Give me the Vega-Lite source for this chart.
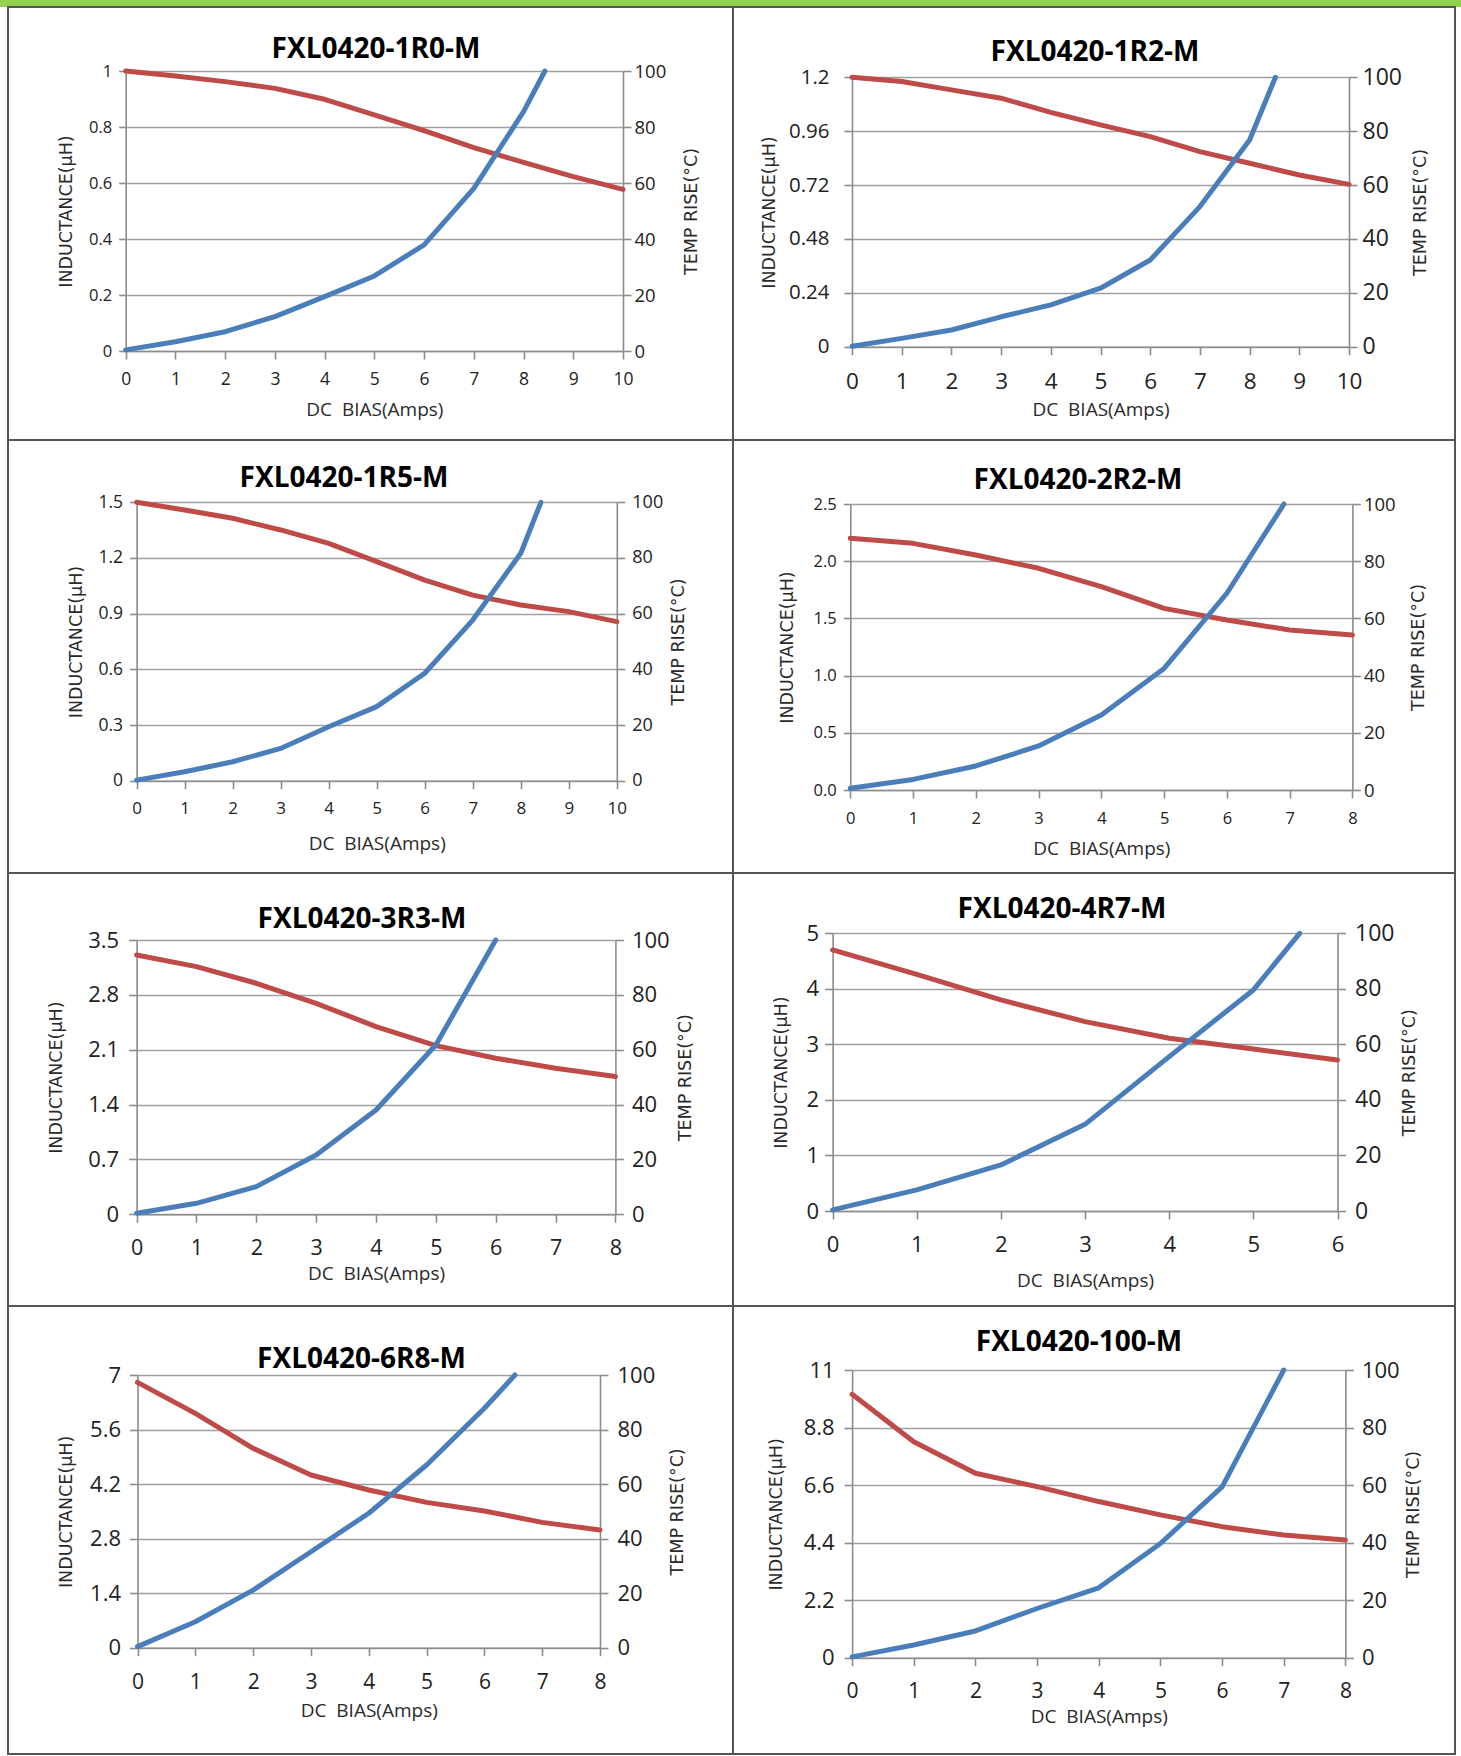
{
  "$schema": "https://vega.github.io/schema/vega-lite/v6.json",
  "background": "white",
  "padding": 0,
  "spacing": 0,
  "bounds": "flush",
  "config": {
    "font": "Open Sans",
    "view": {"stroke": "#555555", "strokeWidth": 2},
    "axis": {"domainColor": "#8c8c8c", "domainWidth": 1.6, "tickColor": "#8c8c8c", "tickWidth": 1.6, "gridColor": "#a0a0a0", "gridWidth": 1.6, "labelColor": "#222222", "labelFont": "Open Sans", "titleFont": "DejaVu Sans", "titleFontWeight": "normal", "titleColor": "#2a2a2a", "titleFontSize": 17.5, "titleBaseline": "middle", "labelFlush": false, "labelOverlap": false, "labelBound": false, "tickSize": 8, "grid": false},
    "axisX": {"titleFont": "Open Sans", "titleFontSize": 19, "labelBaseline": "middle", "format": "d"},
    "title": {"font": "Open Sans", "fontSize": 28, "fontWeight": "bold", "color": "#000000", "anchor": "middle", "frame": "group", "baseline": "middle"},
    "line": {"strokeWidth": 5, "strokeCap": "round", "strokeJoin": "round"}
  },
  "datasets": {
    "p1": [
      {"curve": "L", "bias": 0, "value": 1.0}, {"curve": "L", "bias": 1, "value": 0.982}, {"curve": "L", "bias": 2, "value": 0.962}, {"curve": "L", "bias": 3, "value": 0.938}, {"curve": "L", "bias": 4, "value": 0.899}, {"curve": "L", "bias": 5, "value": 0.843}, {"curve": "L", "bias": 6, "value": 0.787}, {"curve": "L", "bias": 7, "value": 0.726}, {"curve": "L", "bias": 8, "value": 0.674}, {"curve": "L", "bias": 9, "value": 0.623}, {"curve": "L", "bias": 10, "value": 0.577},
      {"curve": "T", "bias": 0, "value": 0.4}, {"curve": "T", "bias": 1, "value": 3.3}, {"curve": "T", "bias": 2, "value": 6.9}, {"curve": "T", "bias": 3, "value": 12.3}, {"curve": "T", "bias": 4, "value": 19.4}, {"curve": "T", "bias": 5, "value": 26.8}, {"curve": "T", "bias": 6, "value": 37.9}, {"curve": "T", "bias": 7, "value": 58.1}, {"curve": "T", "bias": 8, "value": 85.5}, {"curve": "T", "bias": 8.43, "value": 100}
    ],
    "p2": [
      {"curve": "L", "bias": 0, "value": 1.2}, {"curve": "L", "bias": 1, "value": 1.181}, {"curve": "L", "bias": 2, "value": 1.144}, {"curve": "L", "bias": 3, "value": 1.107}, {"curve": "L", "bias": 4, "value": 1.044}, {"curve": "L", "bias": 5, "value": 0.988}, {"curve": "L", "bias": 6, "value": 0.936}, {"curve": "L", "bias": 7, "value": 0.869}, {"curve": "L", "bias": 8, "value": 0.817}, {"curve": "L", "bias": 9, "value": 0.765}, {"curve": "L", "bias": 10, "value": 0.723},
      {"curve": "T", "bias": 0, "value": 0.2}, {"curve": "T", "bias": 1, "value": 3.1}, {"curve": "T", "bias": 2, "value": 6.2}, {"curve": "T", "bias": 3, "value": 11.1}, {"curve": "T", "bias": 4, "value": 15.5}, {"curve": "T", "bias": 5, "value": 21.7}, {"curve": "T", "bias": 6, "value": 32.2}, {"curve": "T", "bias": 7, "value": 52}, {"curve": "T", "bias": 8, "value": 76.7}, {"curve": "T", "bias": 8.52, "value": 100}
    ],
    "p3": [
      {"curve": "L", "bias": 0, "value": 1.5}, {"curve": "L", "bias": 1, "value": 1.459}, {"curve": "L", "bias": 2, "value": 1.414}, {"curve": "L", "bias": 3, "value": 1.351}, {"curve": "L", "bias": 4, "value": 1.279}, {"curve": "L", "bias": 5, "value": 1.18}, {"curve": "L", "bias": 6, "value": 1.081}, {"curve": "L", "bias": 7, "value": 1.0}, {"curve": "L", "bias": 8, "value": 0.947}, {"curve": "L", "bias": 9, "value": 0.911}, {"curve": "L", "bias": 10, "value": 0.857},
      {"curve": "T", "bias": 0, "value": 0.2}, {"curve": "T", "bias": 1, "value": 3.2}, {"curve": "T", "bias": 2, "value": 6.8}, {"curve": "T", "bias": 3, "value": 11.6}, {"curve": "T", "bias": 4, "value": 19.4}, {"curve": "T", "bias": 5, "value": 26.6}, {"curve": "T", "bias": 6, "value": 38.6}, {"curve": "T", "bias": 7, "value": 57.7}, {"curve": "T", "bias": 8, "value": 81.7}, {"curve": "T", "bias": 8.42, "value": 100}
    ],
    "p4": [
      {"curve": "L", "bias": 0, "value": 2.2}, {"curve": "L", "bias": 1, "value": 2.156}, {"curve": "L", "bias": 2, "value": 2.054}, {"curve": "L", "bias": 3, "value": 1.938}, {"curve": "L", "bias": 4, "value": 1.777}, {"curve": "L", "bias": 5, "value": 1.588}, {"curve": "L", "bias": 6, "value": 1.486}, {"curve": "L", "bias": 7, "value": 1.399}, {"curve": "L", "bias": 8, "value": 1.355},
      {"curve": "T", "bias": 0, "value": 0.6}, {"curve": "T", "bias": 1, "value": 3.7}, {"curve": "T", "bias": 2, "value": 8.4}, {"curve": "T", "bias": 3, "value": 15.4}, {"curve": "T", "bias": 4, "value": 26.2}, {"curve": "T", "bias": 5, "value": 42.5}, {"curve": "T", "bias": 6, "value": 68.8}, {"curve": "T", "bias": 6.91, "value": 100}
    ],
    "p5": [
      {"curve": "L", "bias": 0, "value": 3.309}, {"curve": "L", "bias": 1, "value": 3.16}, {"curve": "L", "bias": 2, "value": 2.948}, {"curve": "L", "bias": 3, "value": 2.692}, {"curve": "L", "bias": 4, "value": 2.395}, {"curve": "L", "bias": 5, "value": 2.152}, {"curve": "L", "bias": 6, "value": 1.991}, {"curve": "L", "bias": 7, "value": 1.863}, {"curve": "L", "bias": 8, "value": 1.757},
      {"curve": "T", "bias": 0, "value": 0.4}, {"curve": "T", "bias": 1, "value": 4.0}, {"curve": "T", "bias": 2, "value": 10.1}, {"curve": "T", "bias": 3, "value": 21.6}, {"curve": "T", "bias": 4, "value": 38}, {"curve": "T", "bias": 5, "value": 61.7}, {"curve": "T", "bias": 6, "value": 100}
    ],
    "p6": [
      {"curve": "L", "bias": 0, "value": 4.7}, {"curve": "L", "bias": 1, "value": 4.262}, {"curve": "L", "bias": 2, "value": 3.8}, {"curve": "L", "bias": 3, "value": 3.409}, {"curve": "L", "bias": 4, "value": 3.109}, {"curve": "L", "bias": 5, "value": 2.917}, {"curve": "L", "bias": 6, "value": 2.719},
      {"curve": "T", "bias": 0, "value": 0.4}, {"curve": "T", "bias": 1, "value": 7.6}, {"curve": "T", "bias": 2, "value": 16.6}, {"curve": "T", "bias": 3, "value": 31.2}, {"curve": "T", "bias": 4, "value": 55.6}, {"curve": "T", "bias": 5, "value": 79.6}, {"curve": "T", "bias": 5.55, "value": 100}
    ],
    "p7": [
      {"curve": "L", "bias": 0, "value": 6.81}, {"curve": "L", "bias": 1, "value": 6.016}, {"curve": "L", "bias": 2, "value": 5.117}, {"curve": "L", "bias": 3, "value": 4.433}, {"curve": "L", "bias": 4, "value": 4.048}, {"curve": "L", "bias": 5, "value": 3.731}, {"curve": "L", "bias": 6, "value": 3.508}, {"curve": "L", "bias": 7, "value": 3.217}, {"curve": "L", "bias": 8, "value": 3.021},
      {"curve": "T", "bias": 0, "value": 0.4}, {"curve": "T", "bias": 1, "value": 9.5}, {"curve": "T", "bias": 2, "value": 21.1}, {"curve": "T", "bias": 3, "value": 35.2}, {"curve": "T", "bias": 4, "value": 49.3}, {"curve": "T", "bias": 5, "value": 67}, {"curve": "T", "bias": 6, "value": 87.8}, {"curve": "T", "bias": 6.53, "value": 100}
    ],
    "p8": [
      {"curve": "L", "bias": 0, "value": 10.07}, {"curve": "L", "bias": 1, "value": 8.26}, {"curve": "L", "bias": 2, "value": 7.05}, {"curve": "L", "bias": 3, "value": 6.54}, {"curve": "L", "bias": 4, "value": 5.97}, {"curve": "L", "bias": 5, "value": 5.46}, {"curve": "L", "bias": 6, "value": 5.01}, {"curve": "L", "bias": 7, "value": 4.69}, {"curve": "L", "bias": 8, "value": 4.5},
      {"curve": "T", "bias": 0, "value": 0.3}, {"curve": "T", "bias": 1, "value": 4.4}, {"curve": "T", "bias": 2, "value": 9.3}, {"curve": "T", "bias": 3, "value": 17.1}, {"curve": "T", "bias": 4, "value": 24.3}, {"curve": "T", "bias": 5, "value": 39.7}, {"curve": "T", "bias": 6, "value": 59.4}, {"curve": "T", "bias": 7, "value": 100}
    ]
  },
  "vconcat": [
    {
      "width": 1461, "height": 7,
      "view": {"stroke": null},
      "data": {"values": [{"start": 0, "end": 1}]},
      "mark": {"type": "rect", "color": "#92D050"},
      "encoding": {
        "x": {"field": "start", "type": "quantitative", "scale": {"domain": [0, 1], "nice": false, "zero": false}, "axis": null},
        "x2": {"field": "end"}
      }
    },
    {
      "spacing": 0,
      "bounds": "flush",
      "hconcat": [
        {"width": 8, "height": 10, "view": {"stroke": null}, "data": {"values": []}, "mark": "point", "encoding": {}},
        {
          "columns": 2,
          "spacing": 0,
          "align": "each",
          "bounds": "flush",
          "concat": [
            {
              "width": 725, "height": 433,
              "title": {"text": "FXL0420-1R0-M", "offset": -56.8, "dx": 5.5},
              "data": {"name": "p1"},
              "layer": [
                {"transform": [{"filter": "datum.curve == 'L'"}],
                 "mark": {"type": "line", "color": "#BE4B48"},
                 "encoding": {
                   "x": {"field": "bias", "type": "quantitative", "scale": {"domain": [0, 10], "range": [117.7, 615], "nice": false, "zero": false},
                         "axis": {"values": [0,1,2,3,4,5,6,7,8,9,10], "format": "d", "title": "DC\u00a0 BIAS(Amps)", "offset": -89, "titleY": 58, "labelFontSize": 17.5, "labelPadding": 20}},
                   "y": {"field": "value", "type": "quantitative", "scale": {"domain": [0, 1], "range": [344, 64], "nice": false, "zero": false},
                         "axis": {"orient": "left", "grid": true, "values": [0,0.2,0.4,0.6,0.8,1], "format": ".3~g", "title": "INDUCTANCE(μH)", "offset": -117.7, "titleX": -59.3, "labelFontSize": 16.5, "tickSize": 7, "labelPadding": 7}}
                 }},
                {"transform": [{"filter": "datum.curve == 'T'"}],
                 "mark": {"type": "line", "color": "#4A7EBB"},
                 "encoding": {
                   "x": {"field": "bias", "type": "quantitative"},
                   "y": {"field": "value", "type": "quantitative", "scale": {"domain": [0, 100], "range": [344, 64], "nice": false, "zero": false},
                         "axis": {"orient": "right", "values": [0,20,40,60,80,100], "format": "d", "title": "TEMP RISE(°C)", "titleAngle": 270, "offset": -110, "titleX": 68, "labelFontSize": 18.5, "labelPadding": 3}}
                 }}
              ],
              "resolve": {"scale": {"y": "independent"}, "axis": {"y": "independent"}}
            },
            {
              "width": 722, "height": 433,
              "title": {"text": "FXL0420-1R2-M", "offset": -60.2, "dx": 1},
              "data": {"name": "p2"},
              "layer": [
                {"transform": [{"filter": "datum.curve == 'L'"}],
                 "mark": {"type": "line", "color": "#BE4B48"},
                 "encoding": {
                   "x": {"field": "bias", "type": "quantitative", "scale": {"domain": [0, 10], "range": [119, 616], "nice": false, "zero": false},
                         "axis": {"values": [0,1,2,3,4,5,6,7,8,9,10], "format": "d", "title": "DC\u00a0 BIAS(Amps)", "offset": -93.3, "titleY": 62.3, "labelFontSize": 22.5, "labelPadding": 27}},
                   "y": {"field": "value", "type": "quantitative", "scale": {"domain": [0, 1.2], "range": [339.7, 70.3], "nice": false, "zero": false},
                         "axis": {"orient": "left", "grid": true, "values": [0,0.24,0.48,0.72,0.96,1.2], "format": ".3~g", "title": "INDUCTANCE(μH)", "offset": -119, "titleX": -82.4, "labelFontSize": 20.5, "labelPadding": 15}}
                 }},
                {"transform": [{"filter": "datum.curve == 'T'"}],
                 "mark": {"type": "line", "color": "#4A7EBB"},
                 "encoding": {
                   "x": {"field": "bias", "type": "quantitative"},
                   "y": {"field": "value", "type": "quantitative", "scale": {"domain": [0, 100], "range": [339.7, 70.3], "nice": false, "zero": false},
                         "axis": {"orient": "right", "values": [0,20,40,60,80,100], "format": "d", "title": "TEMP RISE(°C)", "titleAngle": 270, "offset": -106, "titleX": 71, "labelFontSize": 23, "labelPadding": 5}}
                 }}
              ],
              "resolve": {"scale": {"y": "independent"}, "axis": {"y": "independent"}}
            },
            {
              "width": 725, "height": 433,
              "title": {"text": "FXL0420-1R5-M", "offset": -52.8, "dx": -26.5},
              "data": {"name": "p3"},
              "layer": [
                {"transform": [{"filter": "datum.curve == 'L'"}],
                 "mark": {"type": "line", "color": "#BE4B48"},
                 "encoding": {
                   "x": {"field": "bias", "type": "quantitative", "scale": {"domain": [0, 10], "range": [128.6, 608.8], "nice": false, "zero": false},
                         "axis": {"values": [0,1,2,3,4,5,6,7,8,9,10], "format": "d", "title": "DC\u00a0 BIAS(Amps)", "offset": -92.3, "titleY": 62.6, "labelFontSize": 17, "labelPadding": 20}},
                   "y": {"field": "value", "type": "quantitative", "scale": {"domain": [0, 1.5], "range": [340.7, 62.3], "nice": false, "zero": false},
                         "axis": {"orient": "left", "grid": true, "values": [0,0.3,0.6,0.9,1.2,1.5], "format": ".3~g", "title": "INDUCTANCE(μH)", "offset": -128.6, "titleX": -59.7, "labelFontSize": 17.5, "tickSize": 7, "labelPadding": 7}}
                 }},
                {"transform": [{"filter": "datum.curve == 'T'"}],
                 "mark": {"type": "line", "color": "#4A7EBB"},
                 "encoding": {
                   "x": {"field": "bias", "type": "quantitative"},
                   "y": {"field": "value", "type": "quantitative", "scale": {"domain": [0, 100], "range": [340.7, 62.3], "nice": false, "zero": false},
                         "axis": {"orient": "right", "values": [0,20,40,60,80,100], "format": "d", "title": "TEMP RISE(°C)", "titleAngle": 270, "offset": -116.2, "titleX": 61.5, "labelFontSize": 18, "labelPadding": 7}}
                 }}
              ],
              "resolve": {"scale": {"y": "independent"}, "axis": {"y": "independent"}}
            },
            {
              "width": 722, "height": 433,
              "title": {"text": "FXL0420-2R2-M", "offset": -54.8, "dx": -16},
              "data": {"name": "p4"},
              "layer": [
                {"transform": [{"filter": "datum.curve == 'L'"}],
                 "mark": {"type": "line", "color": "#BE4B48"},
                 "encoding": {
                   "x": {"field": "bias", "type": "quantitative", "scale": {"domain": [0, 8], "range": [117.3, 619.4], "nice": false, "zero": false},
                         "axis": {"values": [0,1,2,3,4,5,6,7,8], "format": "d", "title": "DC\u00a0 BIAS(Amps)", "offset": -83, "titleY": 58.3, "labelFontSize": 16.5, "labelPadding": 20}},
                   "y": {"field": "value", "type": "quantitative", "scale": {"domain": [0, 2.5], "range": [350, 64], "nice": false, "zero": false},
                         "axis": {"orient": "left", "grid": true, "values": [0,0.5,1,1.5,2,2.5], "format": ".1f", "title": "INDUCTANCE(μH)", "offset": -117.3, "titleX": -63.2, "labelFontSize": 16.5, "tickSize": 7, "labelPadding": 7}}
                 }},
                {"transform": [{"filter": "datum.curve == 'T'"}],
                 "mark": {"type": "line", "color": "#4A7EBB"},
                 "encoding": {
                   "x": {"field": "bias", "type": "quantitative"},
                   "y": {"field": "value", "type": "quantitative", "scale": {"domain": [0, 100], "range": [350, 64], "nice": false, "zero": false},
                         "axis": {"orient": "right", "values": [0,20,40,60,80,100], "format": "d", "title": "TEMP RISE(°C)", "titleAngle": 270, "offset": -102.6, "titleX": 66.4, "labelFontSize": 18.5, "labelPadding": 3}}
                 }}
              ],
              "resolve": {"scale": {"y": "independent"}, "axis": {"y": "independent"}}
            },
            {
              "width": 725, "height": 433,
              "title": {"text": "FXL0420-3R3-M", "offset": -60.8, "dx": -8.5},
              "data": {"name": "p5"},
              "layer": [
                {"transform": [{"filter": "datum.curve == 'L'"}],
                 "mark": {"type": "line", "color": "#BE4B48"},
                 "encoding": {
                   "x": {"field": "bias", "type": "quantitative", "scale": {"domain": [0, 8], "range": [128.6, 607.4], "nice": false, "zero": false},
                         "axis": {"values": [0,1,2,3,4,5,6,7,8], "format": "d", "title": "DC\u00a0 BIAS(Amps)", "offset": -91.7, "titleY": 59, "labelFontSize": 21.5, "labelPadding": 26.5}},
                   "y": {"field": "value", "type": "quantitative", "scale": {"domain": [0, 3.5], "range": [341.3, 67], "nice": false, "zero": false},
                         "axis": {"orient": "left", "grid": true, "values": [0,0.7,1.4,2.1,2.8,3.5], "format": ".3~g", "title": "INDUCTANCE(μH)", "offset": -128.6, "titleX": -79.7, "labelFontSize": 22, "labelPadding": 10}}
                 }},
                {"transform": [{"filter": "datum.curve == 'T'"}],
                 "mark": {"type": "line", "color": "#4A7EBB"},
                 "encoding": {
                   "x": {"field": "bias", "type": "quantitative"},
                   "y": {"field": "value", "type": "quantitative", "scale": {"domain": [0, 100], "range": [341.3, 67], "nice": false, "zero": false},
                         "axis": {"orient": "right", "values": [0,20,40,60,80,100], "format": "d", "title": "TEMP RISE(°C)", "titleAngle": 270, "offset": -117.6, "titleX": 69.9, "labelFontSize": 22, "labelPadding": 8}}
                 }}
              ],
              "resolve": {"scale": {"y": "independent"}, "axis": {"y": "independent"}}
            },
            {
              "width": 722, "height": 433,
              "title": {"text": "FXL0420-4R7-M", "offset": -50.8, "dx": -32},
              "data": {"name": "p6"},
              "layer": [
                {"transform": [{"filter": "datum.curve == 'L'"}],
                 "mark": {"type": "line", "color": "#BE4B48"},
                 "encoding": {
                   "x": {"field": "bias", "type": "quantitative", "scale": {"domain": [0, 6], "range": [99.6, 604.5], "nice": false, "zero": false},
                         "axis": {"values": [0,1,2,3,4,5,6], "format": "d", "title": "DC\u00a0 BIAS(Amps)", "offset": -95, "titleY": 69, "labelFontSize": 22, "labelPadding": 25}},
                   "y": {"field": "value", "type": "quantitative", "scale": {"domain": [0, 5], "range": [338, 60.3], "nice": false, "zero": false},
                         "axis": {"orient": "left", "grid": true, "values": [0,1,2,3,4,5], "format": "d", "title": "INDUCTANCE(μH)", "offset": -99.6, "titleX": -51.3, "labelFontSize": 22, "labelPadding": 6}}
                 }},
                {"transform": [{"filter": "datum.curve == 'T'"}],
                 "mark": {"type": "line", "color": "#4A7EBB"},
                 "encoding": {
                   "x": {"field": "bias", "type": "quantitative"},
                   "y": {"field": "value", "type": "quantitative", "scale": {"domain": [0, 100], "range": [338, 60.3], "nice": false, "zero": false},
                         "axis": {"orient": "right", "values": [0,20,40,60,80,100], "format": "d", "title": "TEMP RISE(°C)", "titleAngle": 270, "offset": -117.5, "titleX": 71.8, "labelFontSize": 23, "labelPadding": 9}}
                 }}
              ],
              "resolve": {"scale": {"y": "independent"}, "axis": {"y": "independent"}}
            },
            {
              "width": 725, "height": 448,
              "title": {"text": "FXL0420-6R8-M", "offset": -67.8, "dx": -9},
              "data": {"name": "p7"},
              "layer": [
                {"transform": [{"filter": "datum.curve == 'L'"}],
                 "mark": {"type": "line", "color": "#BE4B48"},
                 "encoding": {
                   "x": {"field": "bias", "type": "quantitative", "scale": {"domain": [0, 8], "range": [129.5, 592], "nice": false, "zero": false},
                         "axis": {"values": [0,1,2,3,4,5,6,7,8], "format": "d", "title": "DC\u00a0 BIAS(Amps)", "offset": -106.3, "titleY": 62.8, "labelFontSize": 21, "labelPadding": 27}},
                   "y": {"field": "value", "type": "quantitative", "scale": {"domain": [0, 7], "range": [341.7, 69], "nice": false, "zero": false},
                         "axis": {"orient": "left", "grid": true, "values": [0,1.4,2.8,4.2,5.6,7], "format": ".3~g", "title": "INDUCTANCE(μH)", "offset": -129.5, "titleX": -71.3, "labelFontSize": 22, "labelPadding": 9}}
                 }},
                {"transform": [{"filter": "datum.curve == 'T'"}],
                 "mark": {"type": "line", "color": "#4A7EBB"},
                 "encoding": {
                   "x": {"field": "bias", "type": "quantitative"},
                   "y": {"field": "value", "type": "quantitative", "scale": {"domain": [0, 100], "range": [341.7, 69], "nice": false, "zero": false},
                         "axis": {"orient": "right", "values": [0,20,40,60,80,100], "format": "d", "title": "TEMP RISE(°C)", "titleAngle": 270, "offset": -133, "titleX": 77, "labelFontSize": 22, "labelPadding": 9}}
                 }}
              ],
              "resolve": {"scale": {"y": "independent"}, "axis": {"y": "independent"}}
            },
            {
              "width": 722, "height": 448,
              "title": {"text": "FXL0420-100-M", "offset": -51.2, "dx": -15},
              "data": {"name": "p8"},
              "layer": [
                {"transform": [{"filter": "datum.curve == 'L'"}],
                 "mark": {"type": "line", "color": "#BE4B48"},
                 "encoding": {
                   "x": {"field": "bias", "type": "quantitative", "scale": {"domain": [0, 8], "range": [119.1, 612.4], "nice": false, "zero": false},
                         "axis": {"values": [0,1,2,3,4,5,6,7,8], "format": "d", "title": "DC\u00a0 BIAS(Amps)", "offset": -96.3, "titleY": 58.5, "labelFontSize": 21, "labelPadding": 25.5}},
                   "y": {"field": "value", "type": "quantitative", "scale": {"domain": [0, 11], "range": [351.7, 64], "nice": false, "zero": false},
                         "axis": {"orient": "left", "grid": true, "values": [0,2.2,4.4,6.6,8.8,11], "format": ".3~g", "title": "INDUCTANCE(μH)", "offset": -119.1, "titleX": -75.5, "labelFontSize": 22, "labelPadding": 10}}
                 }},
                {"transform": [{"filter": "datum.curve == 'T'"}],
                 "mark": {"type": "line", "color": "#4A7EBB"},
                 "encoding": {
                   "x": {"field": "bias", "type": "quantitative"},
                   "y": {"field": "value", "type": "quantitative", "scale": {"domain": [0, 100], "range": [351.7, 64], "nice": false, "zero": false},
                         "axis": {"orient": "right", "values": [0,20,40,60,80,100], "format": "d", "title": "TEMP RISE(°C)", "titleAngle": 270, "offset": -109.6, "titleX": 67.6, "labelFontSize": 22, "labelPadding": 8}}
                 }}
              ],
              "resolve": {"scale": {"y": "independent"}, "axis": {"y": "independent"}}
            }
          ]
        }
      ]
    }
  ]
}
